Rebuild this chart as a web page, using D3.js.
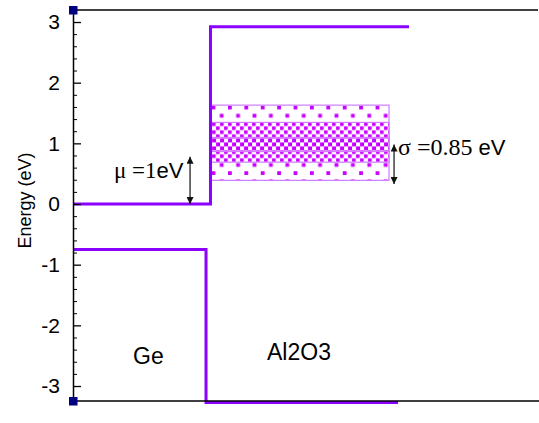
<!DOCTYPE html>
<html><head><meta charset="utf-8">
<script src="https://cdn.jsdelivr.net/npm/d3@7"></script>
<style>body{margin:0;background:#fff}svg{display:block}</style>
</head><body>
<svg id="c" width="539" height="423"></svg>
<script>
// ---- data ----
const yTicks = [-3, -2, -1, 0, 1, 2, 3];
const yDomain = [-3.247, 3.198];
const xDomain = [0, 23];
// valence band edge (Ge -> Al2O3)
const vbX = [0, 6.58, 6.58, 16.08];
const vbE = [-0.75, -0.75, -3.27, -3.27];
// Fermi level / conduction band edge
const cbX = [0, 6.8, 6.8, 16.62];
const cbE = [0, 0, 2.92, 2.92];
// trap distribution bands (outer, middle, inner)
const bandX = [6.83, 15.63];
const bandLo = [0.39, 0.69, 0.865];
const bandHi = [1.63, 1.345, 1.097];
const bandPattern = ["dots", "checker", "checker2"];
// annotations
const muArrow = {x: 5.79, e0: 0.0, e1: 0.78};
const sigArrow = {x: 15.88, e0: 0.33, e1: 0.98};
const labels = ["Ge", "Al2O3"];

// ---- drawing ----
const svg = d3.select("#c");
const L = 73, T = 10, B = 401, R = 538;
const x = d3.scaleLinear().domain(xDomain).range([L, R]);
const y = d3.scaleLinear().domain(yDomain).range([B, T]);
const lineCol = "#8c00ff", patCol = "#c800ff";
const SANS = "Liberation Sans, Arial, sans-serif", SERIF = "Liberation Serif, Times New Roman, serif";

const defs = svg.append("defs");
const pDots = defs.append("pattern").attr("id", "dots").attr("patternUnits", "userSpaceOnUse")
  .attr("width", 16.4).attr("height", 16.4).attr("x", x(bandX[0]) + 0.5).attr("y", y(bandHi[0]) + 0.5);
pDots.append("rect").attr("x", 0).attr("y", 0).attr("width", 3.8).attr("height", 3.8).attr("fill", patCol);
pDots.append("rect").attr("x", 8.2).attr("y", 8.2).attr("width", 3.8).attr("height", 3.8).attr("fill", patCol);
const pCh = defs.append("pattern").attr("id", "checker").attr("patternUnits", "userSpaceOnUse")
  .attr("width", 8).attr("height", 8).attr("x", x(bandX[0]) + 1).attr("y", y(bandHi[1]));
pCh.append("rect").attr("width", 8).attr("height", 8).attr("fill", "#fff");
pCh.append("rect").attr("x", 0).attr("y", 0).attr("width", 3.6).attr("height", 3.6).attr("fill", patCol);
pCh.append("rect").attr("x", 4).attr("y", 4).attr("width", 3.6).attr("height", 3.6).attr("fill", patCol);
const pCh2 = defs.append("pattern").attr("id", "checker2").attr("patternUnits", "userSpaceOnUse")
  .attr("width", 8).attr("height", 8).attr("x", x(bandX[0]) + 1).attr("y", y(bandHi[1]));
pCh2.append("rect").attr("width", 8).attr("height", 8).attr("fill", "#fff");
pCh2.append("rect").attr("x", 0).attr("y", 0).attr("width", 4).attr("height", 4).attr("fill", patCol);
pCh2.append("rect").attr("x", 4).attr("y", 4).attr("width", 4).attr("height", 4).attr("fill", patCol);
pCh2.append("rect").attr("x", 2).attr("y", 2).attr("width", 2).attr("height", 2).attr("fill", patCol);

const mk = (id, path) => defs.append("marker").attr("id", id).attr("viewBox", "0 0 10 10")
  .attr("refX", 10).attr("refY", 5).attr("markerUnits", "userSpaceOnUse")
  .attr("markerWidth", 11).attr("markerHeight", 7).attr("orient", "auto-start-reverse")
  .append("path").attr("d", path).attr("fill", "#111");
mk("ah", "M0,0 L10,5 L0,10 Z");

// trap bands
bandLo.forEach((lo, i) => {
  svg.append("rect")
    .attr("x", x(bandX[0])).attr("y", y(bandHi[i]))
    .attr("width", x(bandX[1]) - x(bandX[0])).attr("height", y(lo) - y(bandHi[i]))
    .attr("fill", `url(#${bandPattern[i]})`)
    .attr("stroke", "#cf7cff").attr("stroke-width", 1.2);
});

// band edge lines
const ln = d3.line().x(d => x(d[0])).y(d => y(d[1]));
svg.append("path").datum(vbX.map((v, i) => [v, vbE[i]])).attr("d", ln)
  .attr("fill", "none").attr("stroke", lineCol).attr("stroke-width", 3);
svg.append("path").datum(cbX.map((v, i) => [v, cbE[i]])).attr("d", ln)
  .attr("fill", "none").attr("stroke", lineCol).attr("stroke-width", 3);

// frame
svg.append("line").attr("x1", L).attr("x2", R).attr("y1", T).attr("y2", T).attr("stroke", "#000").attr("stroke-width", 1.5);
svg.append("line").attr("x1", L).attr("x2", 539).attr("y1", B).attr("y2", B).attr("stroke", "#000").attr("stroke-width", 1.5);

// y axis
const minor = d3.range(-32, 33, 2).map(v => v / 10).filter(v => !yTicks.includes(v) && v >= yDomain[0] && v <= yDomain[1]);
const g = svg.append("g").attr("transform", `translate(${L},0)`);
g.append("g").call(d3.axisLeft(y).tickValues(minor).tickSize(-4).tickFormat(""))
  .call(s => s.select(".domain").remove())
  .call(s => s.selectAll("line").attr("stroke", "#000").attr("stroke-width", 1));
g.append("g").call(d3.axisLeft(y).tickValues(yTicks).tickSize(-8).tickPadding(13).tickSizeOuter(0).tickFormat(d => String(d)))
  .call(s => s.select(".domain").attr("stroke", "#000").attr("stroke-width", 1.5))
  .call(s => s.selectAll("line").attr("stroke", "#000").attr("stroke-width", 1.3))
  .call(s => s.selectAll("text").attr("font-family", SANS).attr("font-size", 21).attr("fill", "#000"));

// corner markers
[[L, T], [L, B]].forEach(p => svg.append("rect").attr("x", p[0] - 4).attr("y", p[1] - 4)
  .attr("width", 8.5).attr("height", 8.5).attr("fill", "#000080"));

// y label
svg.append("text").attr("transform", `translate(31,${(T + B) / 2 - 5}) rotate(-90)`)
  .attr("text-anchor", "middle").attr("font-family", SANS)
  .attr("font-size", 18).text("Energy (eV)");

// arrows
[muArrow, sigArrow].forEach(a => {
  svg.append("line").attr("x1", x(a.x)).attr("x2", x(a.x)).attr("y1", y(a.e0)).attr("y2", y(a.e1))
    .attr("stroke", "#111").attr("stroke-width", 1.2)
    .attr("marker-start", "url(#ah)").attr("marker-end", "url(#ah)");
});

// annotation texts
const t1 = svg.append("text").attr("x", 114).attr("y", 178).attr("font-size", 23).attr("fill", "#000");
t1.append("tspan").attr("font-family", SERIF).text("\u03bc =1");
t1.append("tspan").attr("font-family", SANS).attr("font-size", 22).text("eV");
const t2 = svg.append("text").attr("x", 398).attr("y", 155).attr("font-size", 24).attr("fill", "#000");
t2.append("tspan").attr("font-family", SERIF).text("\u03c3 =0.85 ");
t2.append("tspan").attr("font-family", SANS).attr("font-size", 22).text("eV");

svg.append("text").attr("x", 133).attr("y", 364).attr("font-family", SANS)
  .attr("font-size", 23).text(labels[0]);
svg.append("text").attr("x", 267).attr("y", 360).attr("font-family", SANS)
  .attr("font-size", 23).text(labels[1]);
</script>
</body></html>
